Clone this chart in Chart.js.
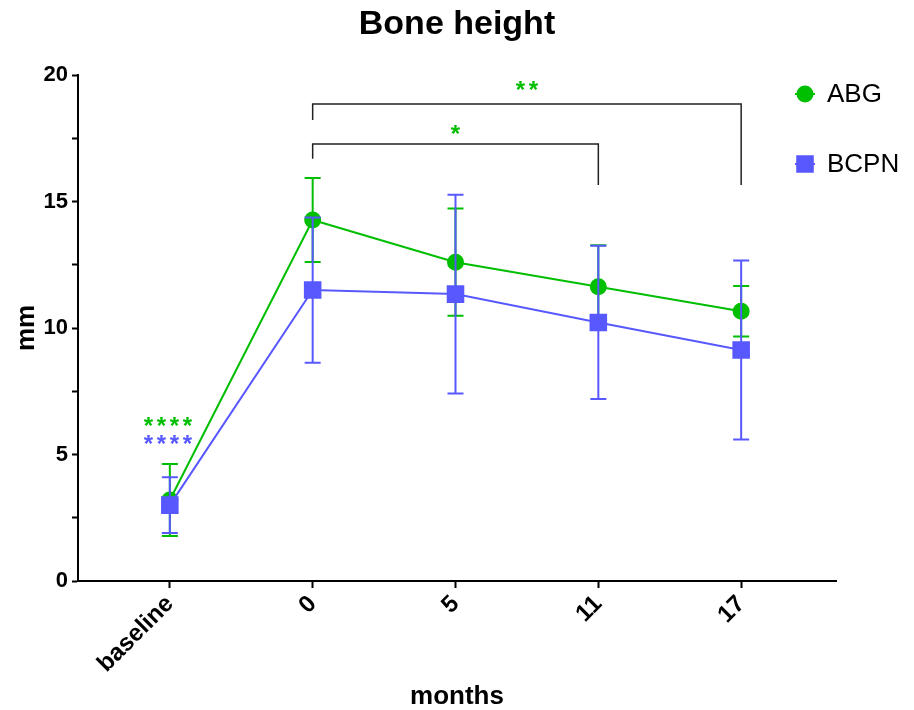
<!DOCTYPE html>
<html>
<head>
<meta charset="utf-8">
<script src="https://cdn.jsdelivr.net/npm/chart.js@4.4.1/dist/chart.umd.min.js"></script>
<style>
  html, body { margin: 0; padding: 0; background: #fff; }
</style>
</head>
<body>
<canvas id="boneChart" width="914" height="710"></canvas>
<script>
// time points (x categories)
const months = ['baseline', '0', '5', '11', '17'];

// mean +/- SD per group
const abgMean = [3.2, 14.27, 12.6, 11.63, 10.66];
const abgSd = [1.42, 1.66, 2.12, 1.64, 1.0];
const bcpnMean = [3.0, 11.5, 11.34, 10.22, 9.13];
const bcpnSd = [1.1, 2.87, 3.93, 3.03, 3.54];

const yMajorTicks = [0, 5, 10, 15, 20];
const yMinorStep = 2.5;

// significance brackets (category index, y in mm)
const bracketFrom = [1, 1];
const bracketTo = [3, 4];
const bracketTop = [17.27, 18.85];
const bracketLeftEnd = [16.69, 18.22];
const bracketRightEnd = [15.65, 15.65];
const bracketStars = [1, 2];
const bracketStarY = [17.85, 19.6];

// stars above baseline (vs. each group)
const baselineStars = [4, 4];
const baselineStarY = [6.3, 5.6];

const green = '#00BE00';
const blue = '#5858FF';

const bracketSets = bracketFrom.map((from, i) => ({
  label: 'bracket' + i,
  data: [
    { x: from, y: bracketLeftEnd[i] },
    { x: from, y: bracketTop[i] },
    { x: bracketTo[i], y: bracketTop[i] },
    { x: bracketTo[i], y: bracketRightEnd[i] }
  ],
  borderColor: '#222',
  borderWidth: 1.5,
  pointRadius: 0,
  tension: 0,
  order: 3
}));

// draw error bars right before their own series, so later series sit on top
const errorBars = {
  id: 'errorBars',
  beforeDatasetDraw(chart, args) {
    const ds = chart.data.datasets[args.index];
    if (!ds.sd) return;
    const { ctx, scales: { x, y } } = chart;
    ctx.save();
    ctx.strokeStyle = ds.borderColor;
    ctx.lineWidth = 2;
    ds.data.forEach((p, i) => {
      const px = x.getPixelForValue(p.x);
      const top = y.getPixelForValue(p.y + ds.sd[i]);
      const bot = y.getPixelForValue(p.y - ds.sd[i]);
      ctx.beginPath();
      ctx.moveTo(px, top); ctx.lineTo(px, bot);
      ctx.moveTo(px - 8, top); ctx.lineTo(px + 8, top);
      ctx.moveTo(px - 8, bot); ctx.lineTo(px + 8, bot);
      ctx.stroke();
    });
    ctx.restore();
  }
};

// row of n asterisks centred on (cx, cy)
function drawStars(ctx, n, cx, cy) {
  const gap = 13;
  const m = ctx.measureText('*');
  const mid = (m.actualBoundingBoxAscent - m.actualBoundingBoxDescent) / 2;
  for (let k = 0; k < n; k++) {
    ctx.fillText('*', cx + (k - (n - 1) / 2) * gap, cy + mid);
  }
}

const annotations = {
  id: 'annotations',
  afterDraw(chart) {
    const { ctx, chartArea, scales: { x, y } } = chart;
    ctx.save();

    ctx.fillStyle = '#000';
    ctx.font = 'bold 34px "Liberation Sans", Arial, sans-serif';
    ctx.textAlign = 'center';
    ctx.textBaseline = 'alphabetic';
    ctx.fillText('Bone height', (chartArea.left + chartArea.right) / 2, 34);

    ctx.font = 'bold 24px "Liberation Sans", Arial, sans-serif';
    ctx.fillStyle = green;
    bracketStars.forEach((n, i) => {
      const cx = x.getPixelForValue((bracketFrom[i] + bracketTo[i]) / 2);
      drawStars(ctx, n, cx, y.getPixelForValue(bracketStarY[i]));
    });
    [green, blue].forEach((c, i) => {
      ctx.fillStyle = c;
      drawStars(ctx, baselineStars[i], x.getPixelForValue(0) - 2, y.getPixelForValue(baselineStarY[i]));
    });

    // legend, top right over the plot
    const series = chart.data.datasets.filter(d => d.sd);
    series.forEach((d, i) => {
      const ly = 94 + i * 70;
      ctx.strokeStyle = d.borderColor;
      ctx.lineWidth = 2;
      ctx.beginPath();
      ctx.moveTo(795, ly); ctx.lineTo(815, ly);
      ctx.stroke();
      ctx.fillStyle = d.borderColor;
      Chart.helpers.drawPoint(ctx, {
        pointStyle: d.pointStyle, radius: d.pointRadius, borderWidth: 1, rotation: 0
      }, 805, ly);
      ctx.fillStyle = '#000';
      ctx.font = '26px "Liberation Sans", Arial, sans-serif';
      ctx.textAlign = 'left';
      ctx.textBaseline = 'middle';
      ctx.fillText(d.label, 827, ly + 1);
    });
    ctx.restore();
  }
};

Chart.defaults.font.family = '"Liberation Sans", Arial, sans-serif';
Chart.defaults.color = '#000';

new Chart(document.getElementById('boneChart'), {
  type: 'line',
  data: {
    datasets: [
      {
        label: 'ABG',
        data: abgMean.map((v, i) => ({ x: i, y: v })),
        sd: abgSd,
        borderColor: green,
        backgroundColor: green,
        pointBackgroundColor: green,
        pointBorderColor: green,
        pointStyle: 'circle',
        pointRadius: 7.5,
        borderWidth: 2,
        tension: 0,
        order: 2
      },
      {
        label: 'BCPN',
        data: bcpnMean.map((v, i) => ({ x: i, y: v })),
        sd: bcpnSd,
        borderColor: blue,
        backgroundColor: blue,
        pointBackgroundColor: blue,
        pointBorderColor: blue,
        pointStyle: 'rect',
        pointRadius: 11,
        borderWidth: 2,
        tension: 0,
        order: 1
      },
      ...bracketSets
    ]
  },
  options: {
    responsive: false,
    animation: false,
    devicePixelRatio: 1,
    layout: { padding: { top: 75, left: 0, right: 78, bottom: 0 } },
    plugins: {
      legend: { display: false },
      tooltip: { enabled: false },
      title: { display: false }
    },
    scales: {
      x: {
        type: 'linear',
        min: -0.643,
        max: 4.664,
        afterBuildTicks: (scale) => { scale.ticks = months.map((m, i) => ({ value: i })); },
        afterFit: (scale) => { scale.height = 129; },
        ticks: {
          callback: (v) => months[Math.round(v)],
          font: { size: 24, weight: 'bold' },
          color: '#000',
          minRotation: 45,
          maxRotation: 45,
          padding: 2,
          autoSkip: false
        },
        grid: { drawOnChartArea: false, tickLength: 7, tickColor: '#000', tickWidth: 2 },
        border: { color: '#000', width: 2 },
        title: {
          display: true,
          text: 'months',
          font: { size: 26, weight: 'bold', lineHeight: 1 },
          color: '#000',
          padding: { top: 0, bottom: 0 }
        }
      },
      y: {
        min: 0,
        max: 20,
        afterBuildTicks: (scale) => {
          const t = [];
          for (let v = 0; v <= 20; v += yMinorStep) t.push({ value: v });
          scale.ticks = t;
        },
        afterFit: (scale) => { scale.width = 78; },
        ticks: {
          callback: (v) => yMajorTicks.includes(v) ? v : '',
          font: { size: 22, weight: 'bold' },
          color: '#000',
          padding: 4,
          autoSkip: false
        },
        grid: { drawOnChartArea: false, tickLength: 6, tickColor: '#000', tickWidth: 2 },
        border: { color: '#000', width: 2 },
        title: {
          display: true,
          text: 'mm',
          font: { size: 26, weight: 'bold', lineHeight: 1 },
          color: '#000',
          padding: { top: 14, bottom: 0 }
        }
      }
    }
  },
  plugins: [errorBars, annotations]
});
</script>
</body>
</html>
